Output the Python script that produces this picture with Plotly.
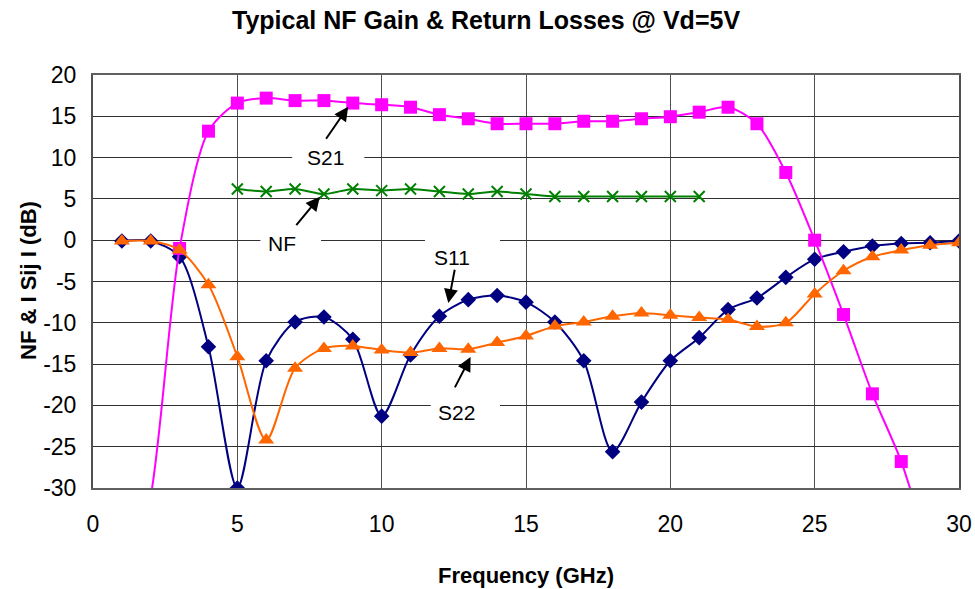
import plotly.graph_objects as go

freq = list(range(1, 31))
freq_nf = list(range(5, 22))

s21 = [-45.0, -31.0, -1.0, 13.2, 16.6, 17.2, 16.9, 16.9, 16.6, 16.4,
       16.1, 15.2, 14.7, 14.1, 14.1, 14.1, 14.4, 14.4, 14.7, 14.95,
       15.5, 16.1, 14.1, 8.2, 0.0, -9.0, -18.6, -26.8, -38.0, -48.0]
s11 = [-0.1, -0.1, -2.0, -12.9, -30.0, -14.6, -9.9, -9.3, -12.0, -21.3,
       -13.9, -9.2, -7.2, -6.7, -7.5, -9.9, -14.6, -25.6, -19.6, -14.6,
       -11.8, -8.4, -7.0, -4.5, -2.3, -1.4, -0.7, -0.4, -0.3, -0.1]
s22 = [-0.1, -0.1, -1.2, -5.4, -14.1, -24.2, -15.5, -13.1, -12.8, -13.3,
       -13.6, -13.1, -13.2, -12.4, -11.6, -10.4, -9.9, -9.2, -8.8, -9.1,
       -9.35, -9.6, -10.45, -10.0, -6.5, -3.7, -2.0, -1.2, -0.6, -0.3]
nf = [6.2, 5.9, 6.2, 5.6, 6.2, 6.0, 6.2, 5.9, 5.6, 5.9, 5.6, 5.3, 5.3,
      5.3, 5.3, 5.3, 5.3]

x_ticks = [0, 5, 10, 15, 20, 25, 30]
y_ticks = [20, 15, 10, 5, 0, -5, -10, -15, -20, -25, -30]

FONT = "Liberation Sans, Arial, sans-serif"

fig = go.Figure()
fig.add_trace(go.Scatter(x=freq, y=s11, name="S11", mode="lines+markers",
                         line=dict(color="#000080", width=2, shape="spline", smoothing=0.8),
                         marker=dict(symbol="diamond", size=12, color="#000080")))
fig.add_trace(go.Scatter(x=freq, y=s21, name="S21", mode="lines+markers",
                         line=dict(color="#FF00FF", width=2, shape="spline", smoothing=0.8),
                         marker=dict(symbol="square", size=13, color="#FF00FF")))
fig.add_trace(go.Scatter(x=freq, y=s22, name="S22", mode="lines+markers",
                         line=dict(color="#FF6600", width=2, shape="spline", smoothing=0.8),
                         marker=dict(symbol="triangle-up", size=14, color="#FF6600")))
fig.add_trace(go.Scatter(x=freq_nf, y=nf, name="NF", mode="lines+markers",
                         line=dict(color="#008000", width=2, shape="spline", smoothing=0.8),
                         marker=dict(symbol="x-thin", size=11, color="#008000",
                                     line=dict(color="#008000", width=2))))

# white label boxes breaking the gridlines
boxes = [(6.9, 9.4, 11.5, 8.6), (5.8, 7.9, 1.2, -1.2), (11.5, 14.1, 0.5, -1.2), (11.7, 14.1, -18.8, -21.2)]
for x0, x1, y0, y1 in boxes:
    fig.add_shape(type="rect", xref="x", yref="y", x0=x0, x1=x1, y0=y0, y1=y1,
                  fillcolor="white", line=dict(width=0), layer="between")

labels = [("S21", 8.05, 10.05), ("NF", 6.55, -0.35), ("S11", 12.42, -2.05), ("S22", 12.6, -20.8)]
for t, x, y in labels:
    fig.add_annotation(x=x, y=y, xref="x", yref="y", text=t, showarrow=False,
                       font=dict(family=FONT, size=21, color="black"))

arrows = [(8.84, 16.15, 8.04, 12.1), (7.86, 5.27, 7.0, 1.64),
          (12.31, -7.6, 12.54, -3.4), (13.08, -14.15, 12.51, -18.0)]
for hx, hy, tx, ty in arrows:
    fig.add_annotation(x=hx, y=hy, ax=tx, ay=ty, xref="x", yref="y", axref="x", ayref="y",
                       text="", showarrow=True, arrowhead=2, arrowsize=1.4, arrowwidth=2,
                       arrowcolor="black")

fig.add_annotation(xref="paper", yref="paper", x=(486 - 93) / 866, y=1 + (75 - 20) / 413,
                   text="<b>Typical NF Gain & Return Losses @ Vd=5V</b>", showarrow=False,
                   font=dict(family=FONT, size=25, color="black"), xanchor="center", yanchor="middle")
fig.add_annotation(xref="paper", yref="paper", x=(526 - 93) / 866, y=-(575 - 488) / 413,
                   text="<b>Frequency (GHz)</b>", showarrow=False,
                   font=dict(family=FONT, size=22, color="black"), xanchor="center", yanchor="middle")
fig.add_annotation(xref="paper", yref="paper", x=-(93 - 28) / 866, y=(488 - 281) / 413,
                   text="<b>NF &amp; I Sij I (dB)</b>", showarrow=False, textangle=-90,
                   font=dict(family=FONT, size=22, color="black"), xanchor="center", yanchor="middle")

fig.update_layout(
    width=975, height=589,
    margin=dict(l=93, r=16, t=75, b=101),
    paper_bgcolor="white", plot_bgcolor="white",
    showlegend=False,
    font=dict(family=FONT, size=23, color="black"),
    xaxis=dict(range=[0, 30], tickvals=x_ticks, ticktext=[str(v) for v in x_ticks],
               showgrid=True, gridcolor="#505050", gridwidth=1, zeroline=False,
               showline=True, linecolor="#606060", linewidth=2, mirror=True,
               ticks="", ticklabelstandoff=14, tickfont=dict(size=23), automargin=False),
    yaxis=dict(range=[-30, 20], tickvals=y_ticks, ticktext=[str(v) for v in y_ticks],
               showgrid=True, gridcolor="#303030", gridwidth=1, zeroline=False,
               showline=True, linecolor="#505050", linewidth=2, mirror=True,
               ticks="", ticklabelstandoff=10, tickfont=dict(size=23), automargin=False),
)

fig.write_html("out.html", config={"displayModeBar": False},
               post_script="document.body.style.margin='0px';document.body.style.overflow='hidden';")
